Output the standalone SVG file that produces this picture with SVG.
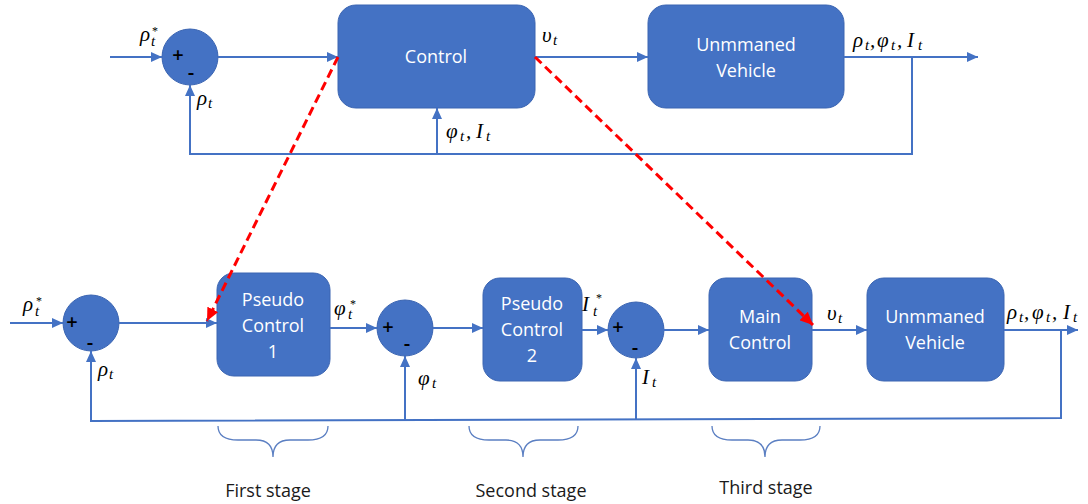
<svg xmlns="http://www.w3.org/2000/svg" width="1088" height="504" viewBox="0 0 1088 504">
  <style>
    .blk { fill: #4472C4; stroke: #3B65B2; stroke-width: 1; }
    .lbl { font-family: "Open Sans", "Liberation Sans", sans-serif; font-size: 18px; fill: #FFFFFF; text-anchor: middle; }
    .sgn { font-family: "Open Sans", "Liberation Sans", sans-serif; font-size: 20px; font-weight: 600; fill: #000000; text-anchor: middle; }
    .m { font-family: "Liberation Serif", "DejaVu Serif", serif; font-style: italic; font-size: 21px; fill: #000000; }
    .s { font-size: 15px; }
    .st { font-style: normal; font-size: 12px; }
    .stage { font-family: "Open Sans", "Liberation Sans", sans-serif; font-size: 18px; fill: #1A1A1A; text-anchor: middle; }
    .wire { fill: none; stroke: #4472C4; stroke-width: 2; marker-end: url(#ah); }
    .map { fill: none; stroke: #FF0000; stroke-width: 3; stroke-dasharray: 9 5; marker-end: url(#ahr); }
    .brace { fill: none; stroke: #5B7FC2; stroke-width: 1.3; }
  </style>
  <defs>
    <marker id="ah" markerUnits="userSpaceOnUse" markerWidth="12" markerHeight="10" refX="11" refY="5" orient="auto">
      <path d="M0,0 L11,5 L0,10 Z" fill="#4472C4"/>
    </marker>
    <marker id="ahr" markerUnits="userSpaceOnUse" markerWidth="14" markerHeight="12" refX="13" refY="6" orient="auto">
      <path d="M0,0 L13,6 L0,12 Z" fill="#FF0000"/>
    </marker>
  </defs>

  <rect width="1088" height="504" fill="#FFFFFF"/>

  <!-- upper loop -->
  <g id="sum-top">
    <circle class="blk" cx="190" cy="57" r="28"/>
    <text class="sgn" x="178" y="62">+</text>
    <text class="sgn" x="191" y="79">-</text>
  </g>
  <g id="control">
    <rect class="blk" x="338" y="5" width="197" height="103" rx="18"/>
    <text class="lbl" x="436" y="63">Control</text>
  </g>
  <g id="vehicle-top">
    <rect class="blk" x="648" y="5" width="196" height="103" rx="18"/>
    <text class="lbl" x="746" y="51">Unmmaned</text>
    <text class="lbl" x="746" y="77">Vehicle</text>
  </g>

  <!-- cascaded loop -->
  <g id="sum-1">
    <circle class="blk" cx="91" cy="323" r="28"/>
    <text class="sgn" x="72" y="329">+</text>
    <text class="sgn" x="90" y="349">-</text>
  </g>
  <g id="pseudo-control-1">
    <rect class="blk" x="217" y="273" width="113" height="103" rx="17"/>
    <text class="lbl" x="273" y="306">Pseudo</text>
    <text class="lbl" x="273" y="332">Control</text>
    <text class="lbl" x="273" y="358">1</text>
  </g>
  <g id="sum-2">
    <circle class="blk" cx="405" cy="328" r="28"/>
    <text class="sgn" x="388" y="334">+</text>
    <text class="sgn" x="407" y="350">-</text>
  </g>
  <g id="pseudo-control-2">
    <rect class="blk" x="483" y="278" width="99" height="103" rx="17"/>
    <text class="lbl" x="532" y="310">Pseudo</text>
    <text class="lbl" x="532" y="336">Control</text>
    <text class="lbl" x="532" y="362">2</text>
  </g>
  <g id="sum-3">
    <circle class="blk" cx="636" cy="330" r="28"/>
    <text class="sgn" x="618" y="334">+</text>
    <text class="sgn" x="635" y="354">-</text>
  </g>
  <g id="main-control">
    <rect class="blk" x="709" y="278" width="103" height="103" rx="17"/>
    <text class="lbl" x="760" y="323">Main</text>
    <text class="lbl" x="760" y="349">Control</text>
  </g>
  <g id="vehicle-bottom">
    <rect class="blk" x="867" y="278" width="137" height="103" rx="17"/>
    <text class="lbl" x="935" y="323">Unmmaned</text>
    <text class="lbl" x="935" y="349">Vehicle</text>
  </g>

  <!-- signal lines, drawn over the blocks so the dashed mapping stays visible -->
  <g id="connectors">
    <!-- upper loop -->
    <path class="wire" d="M110,57 H162"/>
    <path class="wire" d="M218,57 H338"/>
    <path class="wire" d="M535,57 H648"/>
    <path class="wire" d="M844,57 H978"/>
    <path class="wire" d="M912,57 V154 H190 V85"/>
    <path class="wire" d="M437,154 V108"/>
    <!-- cascaded loop -->
    <path class="wire" d="M10,323 H63"/>
    <path class="wire" d="M119,323 H217"/>
    <path class="wire" d="M330,328 H377"/>
    <path class="wire" d="M433,328 H483"/>
    <path class="wire" d="M582,330 H608"/>
    <path class="wire" d="M663,330 H709"/>
    <path class="wire" d="M812,330 H867"/>
    <path class="wire" d="M1004,330 H1078"/>
    <path class="wire" d="M1061,330 V418 L91,421 V351"/>
    <path class="wire" d="M405,420 V356"/>
    <path class="wire" d="M636,419 V358"/>
    <!-- expansion of the controller -->
    <path class="map" d="M338,57 L207,321"/>
    <path class="map" d="M535,57 L813,325"/>
  </g>

  <!-- signal names -->
  <g id="signal-labels">
    <text class="m" x="140" y="41">ρ<tspan class="s" x="151" y="46">t</tspan><tspan class="st" x="152" y="35">*</tspan></text>
    <text class="m" x="197" y="105">ρ<tspan class="s" x="208" y="108">t</tspan></text>
    <text class="m" x="542" y="42">υ<tspan class="s" x="553" y="45">t</tspan></text>
    <text class="m" x="853" y="47">ρ<tspan class="s" x="865" y="50">t</tspan><tspan x="870" y="47">,</tspan><tspan x="877" y="47">φ</tspan><tspan class="s" x="891" y="50">t</tspan><tspan x="897" y="47">,</tspan><tspan x="907" y="47">I</tspan><tspan class="s" x="918" y="50">t</tspan></text>
    <text class="m" x="446" y="138">φ<tspan class="s" x="460" y="141">t</tspan><tspan x="466" y="138">,</tspan><tspan x="476" y="138">I</tspan><tspan class="s" x="486" y="141">t</tspan></text>

    <text class="m" x="23" y="311">ρ<tspan class="s" x="35" y="316">t</tspan><tspan class="st" x="36" y="305">*</tspan></text>
    <text class="m" x="98" y="376">ρ<tspan class="s" x="109" y="379">t</tspan></text>
    <text class="m" x="334" y="315">φ<tspan class="s" x="348" y="319">t</tspan><tspan class="st" x="350" y="308">*</tspan></text>
    <text class="m" x="418" y="385">φ<tspan class="s" x="432" y="388">t</tspan></text>
    <text class="m" x="582" y="311">I<tspan class="s" x="593" y="316">t</tspan><tspan class="st" x="596" y="302">*</tspan></text>
    <text class="m" x="642" y="384">I<tspan class="s" x="652" y="387">t</tspan></text>
    <text class="m" x="827" y="320">υ<tspan class="s" x="838" y="323">t</tspan></text>
    <text class="m" x="1007" y="319">ρ<tspan class="s" x="1019" y="322">t</tspan><tspan x="1024" y="319">,</tspan><tspan x="1032" y="319">φ</tspan><tspan class="s" x="1046" y="322">t</tspan><tspan x="1052" y="319">,</tspan><tspan x="1063" y="319">I</tspan><tspan class="s" x="1073" y="322">t</tspan></text>
  </g>

  <!-- stage braces -->
  <g id="stage-1">
    <path class="brace" d="M218,426 Q218,440 238,440 L256,440 Q273,440 273,457 Q273,440 290,440 L308,440 Q328,440 328,426"/>
    <text class="stage" x="268" y="497">First stage</text>
  </g>
  <g id="stage-2">
    <path class="brace" d="M469,426 Q469,440 489,440 L506,440 Q523,440 523,457 Q523,440 540,440 L558,440 Q578,440 578,426"/>
    <text class="stage" x="531" y="497">Second stage</text>
  </g>
  <g id="stage-3">
    <path class="brace" d="M712,426 Q712,440 732,440 L748,440 Q765,440 765,457 Q765,440 782,440 L800,440 Q820,440 820,426"/>
    <text class="stage" x="766" y="494">Third stage</text>
  </g>
</svg>
